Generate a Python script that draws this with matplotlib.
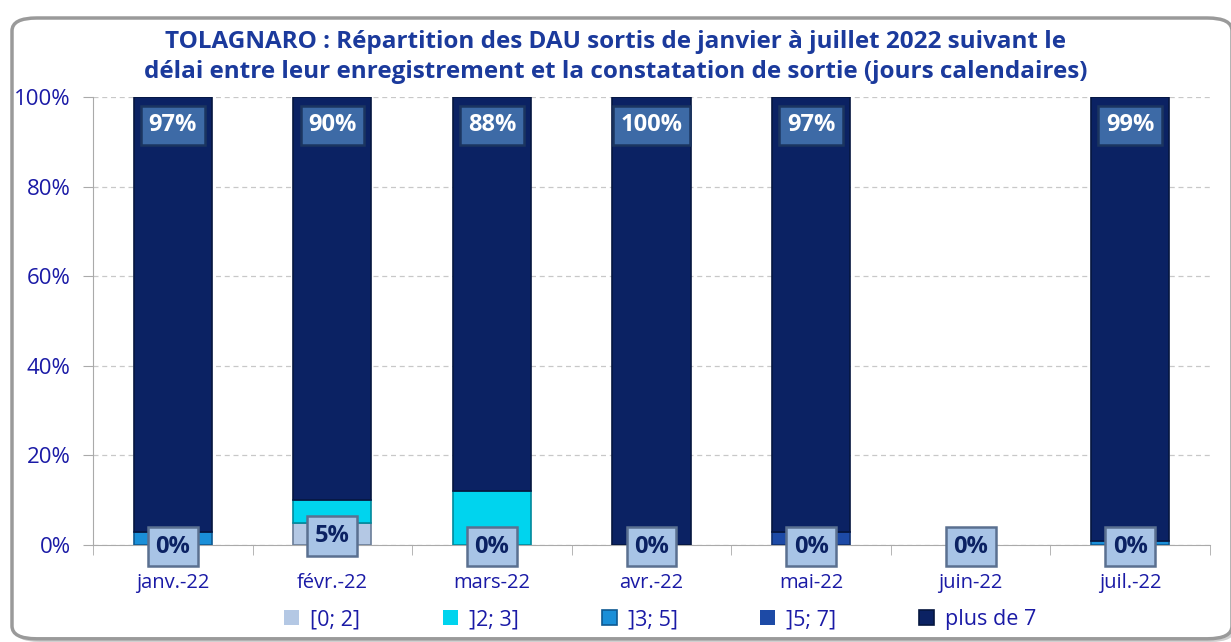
import matplotlib
matplotlib.use("Agg")
import matplotlib.pyplot as plt
from matplotlib.patches import FancyBboxPatch
import numpy as np

categories = ["janv.-22", "févr.-22", "mars-22", "avr.-22", "mai-22", "juin-22", "juil.-22"]
series_names = ["[0; 2]", "]2; 3]", "]3; 5]", "]5; 7]", "plus de 7"]
s_0_2 = [0, 5, 0, 0, 0, 0, 0]
s_2_3 = [0, 5, 12, 0, 0, 0, 0]
s_3_5 = [3, 0, 0, 0, 0, 0, 1]
s_5_7 = [0, 0, 0, 0, 3, 0, 0]
s_plus7 = [97, 90, 88, 100, 97, 0, 99]
title = "TOLAGNARO : Répartition des DAU sortis de janvier à juillet 2022 suivant le\ndélai entre leur enregistrement et la constatation de sortie (jours calendaires)"

colors = ["#b4c8e4", "#00d4ee", "#1a8fd8", "#1d4aa6", "#0b2263"]
edges = ["#6a7d98", "#00899c", "#0e5a92", "#10306e", "#061640"]

plt.rcParams['font.family'] = ['Open Sans', 'DejaVu Sans']
fig = plt.figure(figsize=(12.31, 6.42), dpi=100)

# chart frame (with a soft shadow)
shadow = FancyBboxPatch((15/1231, 0.0), 1220/1231, 1 - 18/642 - 0.005,
                        boxstyle="round,pad=0,rounding_size=0.02",
                        transform=fig.transFigure, facecolor="#d0d0d0",
                        edgecolor="none", zorder=-11)
fig.patches.append(shadow)
frame = FancyBboxPatch((12/1231, 0.005), 1220/1231, 1 - 18/642 - 0.005,
                       boxstyle="round,pad=0,rounding_size=0.02",
                       transform=fig.transFigure, facecolor="white",
                       edgecolor="#9a9a9a", linewidth=2.5, zorder=-10)
fig.patches.append(frame)

ax = fig.add_axes([93/1231, 1 - 545/642, (1210 - 93)/1231, (545 - 97)/642])
ax.set_zorder(5)
ax.set_facecolor("none")
x = np.arange(len(categories))
all_series = [s_0_2, s_2_3, s_3_5, s_5_7, s_plus7]
bottom = np.zeros(len(categories))
handles = []
for name, vals, c, e in zip(series_names, all_series, colors, edges):
    v = np.array(vals, dtype=float) / 100.0
    lw = [1.2 if val > 0 else 0 for val in vals]
    b = ax.bar(x, v, 0.49, bottom=bottom, color=c, edgecolor=e, linewidth=lw,
               label=name, zorder=3)
    handles.append(b)
    bottom += v

ax.set_xlim(-0.5, len(categories) - 0.5)
ax.set_ylim(0, 1)
ax.set_yticks(np.arange(0, 1.01, 0.2))
ax.set_yticklabels([f"{int(round(t*100))}%" for t in np.arange(0, 1.01, 0.2)],
                   color="#1a1aa6", fontsize=16)
ax.set_xticks(x)
ax.set_xticklabels(categories, color="#1a1aa6", fontsize=14.5)
ax.tick_params(axis='x', length=0, pad=20)
ax.set_xticks(np.arange(-0.5, len(categories), 1), minor=True)
ax.tick_params(axis='x', which='minor', length=7, color="#aaaaaa")
ax.tick_params(axis='y', length=7, color="#aaaaaa", pad=9)
ax.grid(axis='y', color="#c8c8c8", linestyle=(0, (4, 3)), linewidth=0.9, zorder=0)
for sp in ["top", "right"]:
    ax.spines[sp].set_visible(False)
for sp in ["left", "bottom"]:
    ax.spines[sp].set_color("#aaaaaa")

# top labels (plus de 7)
for i, v in enumerate(s_plus7):
    if v > 0:
        ax.text(i, 1 - 0.063, f"{v}%", ha="center", va="center", color="white",
                fontsize=17, fontweight="bold", zorder=5,
                bbox=dict(boxstyle="square,pad=0.32", facecolor="#3d6aa6",
                          edgecolor="#1b3560", linewidth=1.8))
# bottom labels ([0; 2])
for i, v in enumerate(s_0_2):
    ax.text(i, v / 200.0 + (-0.004 if v == 0 else -0.005), f"{v}%", ha="center", va="center",
            color="#0b2263", fontsize=17, fontweight="bold", zorder=5,
            bbox=dict(boxstyle="square,pad=0.32", facecolor="#a8c4e6",
                      edgecolor="#5a7090", linewidth=1.8))

ax.legend(handles=handles, loc="center", bbox_to_anchor=(0.508, -0.167), ncol=5,
          frameon=False, fontsize=15.5, labelcolor="#1a1aa6", handlelength=0.7,
          handleheight=0.7, columnspacing=3.85, handletextpad=0.5)

fig.text(0.5, 1 - 57/642, title, ha="center", va="center", fontsize=17.5,
         fontweight="bold", color="#1b3a9c", linespacing=1.3)

fig.savefig("out.png", dpi=100)
